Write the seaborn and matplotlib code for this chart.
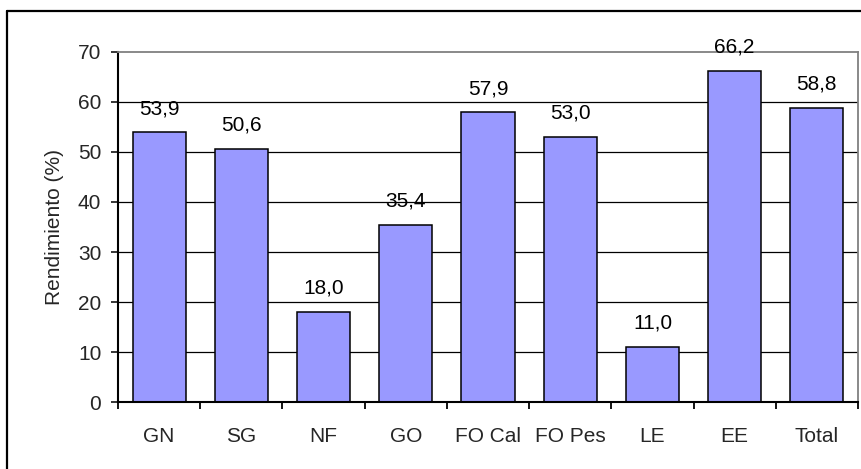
import matplotlib
matplotlib.use("Agg")
import matplotlib.pyplot as plt
import seaborn as sns
import pandas as pd
from matplotlib.lines import Line2D
from matplotlib.ticker import FixedLocator

categories = ["GN", "SG", "NF", "GO", "FO Cal", "FO Pes", "LE", "EE", "Total"]
rendimiento = [53.9, 50.6, 18.0, 35.4, 57.9, 53.0, 11.0, 66.2, 58.8]
y_ticks = [0, 10, 20, 30, 40, 50, 60, 70]

sns.set_theme(style="white")
plt.rcParams["font.family"] = ["Liberation Sans", "DejaVu Sans"]

FS = 15

df = pd.DataFrame({"categoria": categories, "valor": rendimiento})

W, H = 862, 469
fig = plt.figure(figsize=(W / 100, H / 100), dpi=100)
ax = fig.add_axes([118 / W, 1 - 402 / H, (858 - 118) / W, (402 - 52) / H])

# horizontal grid lines behind the bars
for t in y_ticks[1:-1]:
    ax.axhline(t, color="black", lw=0.9, zorder=0)

sns.barplot(data=df, x="categoria", y="valor", color="#9999FF", saturation=1,
            width=0.645, edgecolor="black", linewidth=1.1, ax=ax, zorder=2)

ax.set_xlim(-0.5, len(categories) - 0.5)
ax.set_ylim(0, 70)
ax.set_yticks(y_ticks)
ax.set_yticklabels([str(t) for t in y_ticks], fontsize=FS)

# category labels centred, tick marks on category boundaries
ax.set_xticks(range(len(categories)))
ax.set_xticklabels(categories, fontsize=FS)
ax.tick_params(axis="x", which="major", length=0, pad=18)
ax.xaxis.set_minor_locator(FixedLocator([i - 0.5 for i in range(len(categories) + 1)]))
ax.tick_params(axis="x", which="minor", bottom=True, length=5, width=1.3, color="black", direction="out")
ax.tick_params(axis="y", which="major", left=True, length=5, width=1.1, color="black",
               direction="out", pad=7)

for side in ["left", "bottom"]:
    ax.spines[side].set_color("black")
    ax.spines[side].set_linewidth(1.5)
for side in ["top", "right"]:
    ax.spines[side].set_color("#808080")
    ax.spines[side].set_linewidth(1.3)

ax.set_xlabel("")
ax.set_ylabel("Rendimiento (%)", fontsize=FS)
ax.yaxis.set_label_coords(-0.073, 0.5)

# value labels above each bar
for i, v in enumerate(rendimiento):
    ax.annotate(f"{v:.1f}".replace(".", ","), (i, v), xytext=(0, 17),
                textcoords="offset points", ha="center", va="center",
                fontsize=FS, color="black", zorder=3, annotation_clip=False)

# chart area border (left and top edges)
fig.add_artist(Line2D([7 / W, 7 / W], [0, 1 - 11 / H], transform=fig.transFigure,
                      color="black", lw=1.6))
fig.add_artist(Line2D([7 / W, 1], [1 - 11 / H, 1 - 11 / H], transform=fig.transFigure,
                      color="black", lw=1.6))

fig.savefig("out.png", dpi=100)
